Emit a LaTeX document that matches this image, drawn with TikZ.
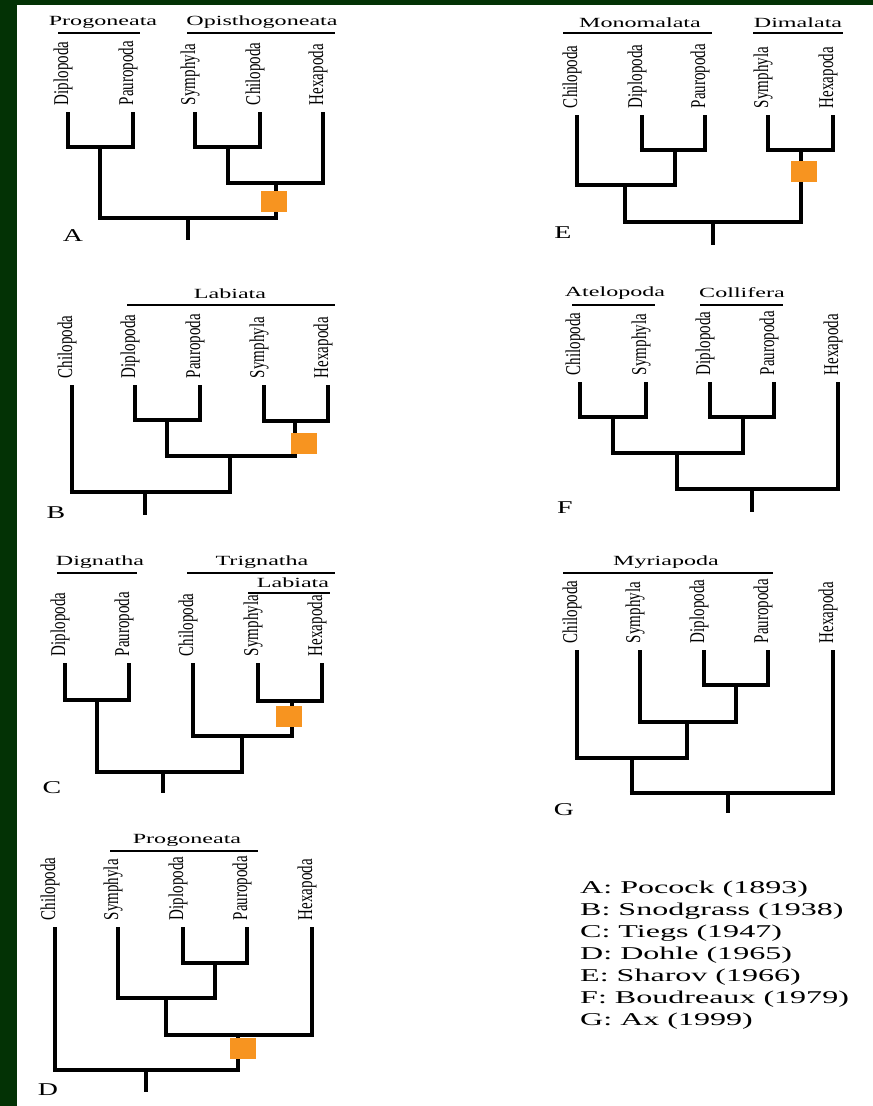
\documentclass[tikz,border=0pt]{standalone}
\usepackage{graphicx}
\usepackage{fontspec}
\setmainfont{Liberation Serif}
\definecolor{bordergreen}{RGB}{3,50,5}
\definecolor{apocolor}{RGB}{247,148,32}
\tikzset{
 vs/.style={line width=4.4pt, black},
 hb/.style={line width=3.2pt, black},
 ul/.style={line width=2pt, black},
 leaf/.style={rotate=90, anchor=base west, inner xsep=7pt, inner ysep=0pt, outer sep=0pt, font=\fontsize{15}{17}\selectfont},
 clade/.style={inner sep=0pt, font=\fontsize{14}{16}\selectfont},
 letter/.style={inner sep=0pt, font=\fontsize{18}{20}\selectfont},
 apo/.style={fill=apocolor, minimum width=26pt, minimum height=21pt, inner sep=0pt, draw=none},
}
\newcommand\Lf[1]{\scalebox{1}[1.4]{#1}}
\newcommand\Cl[1]{\scalebox{1.72}[1]{#1}}
\newcommand\Lt[1]{\scalebox{1.55}[1]{#1}}
\newcommand\cj[3]{%
 \draw[vs] (#2) -- ([yshift=-1.6pt]#2 |- #1);
 \draw[vs] (#3) -- ([yshift=-1.6pt]#3 |- #1);
 \draw[hb] ([xshift=-2.2pt]#2 |- #1) -- ([xshift=2.2pt]#3 |- #1);}
\begin{document}
\begin{tikzpicture}[x=1pt,y=-1pt]
\useasboundingbox (0,0) rectangle (873,1106);
\fill[white] (0,0) rectangle (873,1106);
\fill[bordergreen] (0,0) rectangle (873,5);
\fill[bordergreen] (0,0) rectangle (17,1106);

% ---------------- Tree A
\node[leaf] (aDip) at (68,112) {\Lf{Diplopoda}};
\node[leaf] (aPau) at (133,112) {\Lf{Pauropoda}};
\node[leaf] (aSym) at (195,112) {\Lf{Symphyla}};
\node[leaf] (aChi) at (260,112) {\Lf{Chilopoda}};
\node[leaf] (aHex) at (323,112) {\Lf{Hexapoda}};
\coordinate (aj1) at (100,147);
\coordinate (aj2) at (228,147);
\coordinate (aj3) at (276,183);
\coordinate (aj4) at (188,218);
\coordinate (ae) at (188,240);
\cj{aj1}{aDip.base west}{aPau.base west}
\cj{aj2}{aSym.base west}{aChi.base west}
\cj{aj3}{aj2}{aHex.base west}
\cj{aj4}{aj1}{aj3}
\draw[vs] (aj4) -- (ae);
\node[clade] (aPg) at (103,22) {\Cl{Progoneata}};
\draw[ul] (58,33) -- (140,33);
\node[clade] (aOp) at (262,22) {\Cl{Opisthogoneata}};
\draw[ul] (187,33) -- (335,33);
\node[apo] (aApo) at (274,201) {};
\node[letter] (aL) at (73,236) {\Lt{A}};

% ---------------- Tree B
\node[leaf] (bChi) at (72,385) {\Lf{Chilopoda}};
\node[leaf] (bDip) at (135,385) {\Lf{Diplopoda}};
\node[leaf] (bPau) at (200,385) {\Lf{Pauropoda}};
\node[leaf] (bSym) at (264,385) {\Lf{Symphyla}};
\node[leaf] (bHex) at (328,385) {\Lf{Hexapoda}};
\coordinate (bj1) at (167,420);
\coordinate (bj2) at (295,421);
\coordinate (bj3) at (230,456);
\coordinate (bj4) at (145,492);
\coordinate (be) at (145,515);
\cj{bj1}{bDip.base west}{bPau.base west}
\cj{bj2}{bSym.base west}{bHex.base west}
\cj{bj3}{bj1}{bj2}
\cj{bj4}{bChi.base west}{bj3}
\draw[vs] (bj4) -- (be);
\node[clade] (bLa) at (230,294) {\Cl{Labiata}};
\draw[ul] (127,305) -- (335,305);
\node[apo] (bApo) at (304,443) {};
\node[letter] (bL) at (56,513) {\Lt{B}};

% ---------------- Tree C
\node[leaf] (cDip) at (65,663) {\Lf{Diplopoda}};
\node[leaf] (cPau) at (129,663) {\Lf{Pauropoda}};
\node[leaf] (cChi) at (193,663) {\Lf{Chilopoda}};
\node[leaf] (cSym) at (258,663) {\Lf{Symphyla}};
\node[leaf] (cHex) at (322,663) {\Lf{Hexapoda}};
\coordinate (cj1) at (97,700);
\coordinate (cj2) at (292,701);
\coordinate (cj3) at (242,736);
\coordinate (cj4) at (163,772);
\coordinate (ce) at (163,793);
\cj{cj1}{cDip.base west}{cPau.base west}
\cj{cj2}{cSym.base west}{cHex.base west}
\cj{cj3}{cChi.base west}{cj2}
\cj{cj4}{cj1}{cj3}
\draw[vs] (cj4) -- (ce);
\node[clade] (cDg) at (100,562) {\Cl{Dignatha}};
\draw[ul] (57,573) -- (137,573);
\node[clade] (cTg) at (262,562) {\Cl{Trignatha}};
\draw[ul] (187,573) -- (335,573);
\node[clade] (cLa) at (293,583) {\Cl{Labiata}};
\draw[ul] (248,593) -- (330,593);
\node[apo] (cApo) at (289,716) {};
\node[letter] (cL) at (52,788) {\Lt{C}};

% ---------------- Tree D
\node[leaf] (dChi) at (55,927) {\Lf{Chilopoda}};
\node[leaf] (dSym) at (118,927) {\Lf{Symphyla}};
\node[leaf] (dDip) at (183,927) {\Lf{Diplopoda}};
\node[leaf] (dPau) at (247,927) {\Lf{Pauropoda}};
\node[leaf] (dHex) at (312,927) {\Lf{Hexapoda}};
\coordinate (dj1) at (215,963);
\coordinate (dj2) at (166,998);
\coordinate (dj3) at (238,1035);
\coordinate (dj4) at (146,1070);
\coordinate (de) at (146,1092);
\cj{dj1}{dDip.base west}{dPau.base west}
\cj{dj2}{dSym.base west}{dj1}
\cj{dj3}{dj2}{dHex.base west}
\cj{dj4}{dChi.base west}{dj3}
\draw[vs] (dj4) -- (de);
\node[clade] (dPg) at (187,840) {\Cl{Progoneata}};
\draw[ul] (110,851) -- (258,851);
\node[apo] (dApo) at (243,1048) {};
\node[letter] (dL) at (48,1090) {\Lt{D}};

% ---------------- Tree E
\node[leaf] (eChi) at (577,115) {\Lf{Chilopoda}};
\node[leaf] (eDip) at (642,115) {\Lf{Diplopoda}};
\node[leaf] (ePau) at (705,115) {\Lf{Pauropoda}};
\node[leaf] (eSym) at (768,115) {\Lf{Symphyla}};
\node[leaf] (eHex) at (833,115) {\Lf{Hexapoda}};
\coordinate (ej1) at (675,150);
\coordinate (ej2) at (625,185);
\coordinate (ej3) at (801,150);
\coordinate (ej4) at (713,222);
\coordinate (ee) at (713,245);
\cj{ej1}{eDip.base west}{ePau.base west}
\cj{ej2}{eChi.base west}{ej1}
\cj{ej3}{eSym.base west}{eHex.base west}
\cj{ej4}{ej2}{ej3}
\draw[vs] (ej4) -- (ee);
\node[clade] (eMo) at (640,23) {\Cl{Monomalata}};
\draw[ul] (563,33) -- (712,33);
\node[clade] (eDi) at (798,23) {\Cl{Dimalata}};
\draw[ul] (753,33) -- (843,33);
\node[apo] (eApo) at (804,171) {};
\node[letter] (eL) at (563,233) {\Lt{E}};

% ---------------- Tree F
\node[leaf] (fChi) at (580,382) {\Lf{Chilopoda}};
\node[leaf] (fSym) at (646,382) {\Lf{Symphyla}};
\node[leaf] (fDip) at (710,382) {\Lf{Diplopoda}};
\node[leaf] (fPau) at (774,382) {\Lf{Pauropoda}};
\node[leaf] (fHex) at (838,382) {\Lf{Hexapoda}};
\coordinate (fj1) at (613,417);
\coordinate (fj2) at (743,417);
\coordinate (fj3) at (677,453);
\coordinate (fj4) at (752,489);
\coordinate (fe) at (752,512);
\cj{fj1}{fChi.base west}{fSym.base west}
\cj{fj2}{fDip.base west}{fPau.base west}
\cj{fj3}{fj1}{fj2}
\cj{fj4}{fj3}{fHex.base west}
\draw[vs] (fj4) -- (fe);
\node[clade] (fAt) at (615,293) {\Cl{Atelopoda}};
\draw[ul] (572,305) -- (655,305);
\node[clade] (fCo) at (742,293) {\Cl{Collifera}};
\draw[ul] (700,305) -- (783,305);
\node[letter] (fL) at (565,508) {\Lt{F}};

% ---------------- Tree G
\node[leaf] (gChi) at (577,650) {\Lf{Chilopoda}};
\node[leaf] (gSym) at (640,650) {\Lf{Symphyla}};
\node[leaf] (gDip) at (704,650) {\Lf{Diplopoda}};
\node[leaf] (gPau) at (768,650) {\Lf{Pauropoda}};
\node[leaf] (gHex) at (833,650) {\Lf{Hexapoda}};
\coordinate (gj1) at (736,685);
\coordinate (gj2) at (687,722);
\coordinate (gj3) at (632,758);
\coordinate (gj4) at (728,793);
\coordinate (ge) at (728,813);
\cj{gj1}{gDip.base west}{gPau.base west}
\cj{gj2}{gSym.base west}{gj1}
\cj{gj3}{gChi.base west}{gj2}
\cj{gj4}{gj3}{gHex.base west}
\draw[vs] (gj4) -- (ge);
\node[clade] (gMy) at (666,562) {\Cl{Myriapoda}};
\draw[ul] (563,573) -- (773,573);
\node[letter] (gL) at (564,810) {\Lt{G}};

% ---------------- Legend
\node[anchor=west, inner sep=0pt, font=\fontsize{18}{22}\selectfont] (legend) at (580,955)
 {\scalebox{1.78}[1]{\begin{tabular}{@{}l@{}}
 A: Pocock (1893)\\
 B: Snodgrass (1938)\\
 C: Tiegs (1947)\\
 D: Dohle (1965)\\
 E: Sharov (1966)\\
 F: Boudreaux (1979)\\
 G: Ax (1999)
 \end{tabular}}};
\end{tikzpicture}
\end{document}
